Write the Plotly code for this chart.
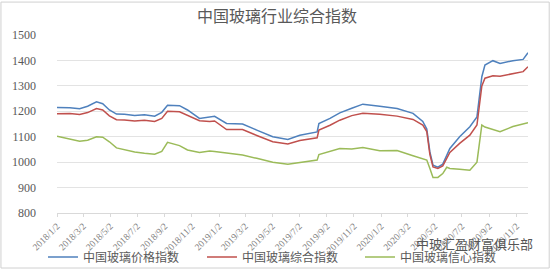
import plotly.graph_objects as go

dates = [
    "2018-01-02", "2018-01-31", "2018-02-22", "2018-03-12", "2018-04-01", "2018-04-15",
    "2018-04-30", "2018-05-16", "2018-06-03", "2018-06-26", "2018-07-18", "2018-08-10",
    "2018-08-26", "2018-09-08", "2018-10-05", "2018-10-23", "2018-11-19", "2018-12-12",
    "2018-12-23", "2019-01-19", "2019-02-24", "2019-03-28", "2019-05-03", "2019-06-06",
    "2019-07-03", "2019-08-11", "2019-08-15", "2019-09-09", "2019-10-01", "2019-10-28",
    "2019-11-22", "2019-12-30", "2020-02-07", "2020-03-14", "2020-04-05", "2020-04-14",
    "2020-04-21", "2020-04-28", "2020-05-09", "2020-05-20", "2020-05-29", "2020-06-05",
    "2020-06-27", "2020-07-20", "2020-08-05", "2020-08-16", "2020-08-23", "2020-09-10",
    "2020-09-26", "2020-10-25", "2020-11-17", "2020-11-28",
]

price_index = [
    1215, 1214, 1210, 1220, 1237, 1230, 1205, 1189, 1188, 1183, 1186, 1181,
    1196, 1224, 1222, 1205, 1172, 1176, 1180, 1152, 1150, 1126, 1100, 1089,
    1106, 1119, 1152, 1172, 1194, 1212, 1228, 1220, 1211, 1192, 1160, 1130,
    1040, 988, 980, 992, 1030, 1054, 1100, 1139, 1178, 1336, 1382, 1399,
    1388, 1399, 1404, 1430,
]

composite_index = [
    1190, 1191, 1187, 1195, 1211, 1205, 1182, 1167, 1166, 1162, 1165, 1160,
    1172, 1200, 1198, 1184, 1163, 1160, 1162, 1128, 1128, 1105, 1080, 1071,
    1085, 1096, 1126, 1145, 1165, 1183, 1192, 1188, 1181, 1168, 1146, 1120,
    1030, 981, 975, 985, 1015, 1038, 1074, 1106, 1146, 1300, 1330, 1340,
    1338, 1349, 1356, 1375,
]

confidence_index = [
    1102, 1090, 1082, 1086, 1100, 1098, 1080, 1056, 1048, 1040, 1035, 1031,
    1042, 1078, 1065, 1048, 1038, 1044, 1042, 1035, 1028, 1015, 1000, 992,
    998, 1008, 1030, 1042, 1054, 1052, 1058, 1045, 1046, 1025, 1015, 1008,
    975, 940, 940, 955, 980, 975, 972, 968, 1000, 1146, 1138, 1130,
    1120, 1140, 1150, 1155,
]

tick_dates = [
    "2018-01-02", "2018-03-02", "2018-05-02", "2018-07-02", "2018-09-02", "2018-11-02",
    "2019-01-02", "2019-03-02", "2019-05-02", "2019-07-02", "2019-09-02", "2019-11-02",
    "2020-01-02", "2020-03-02", "2020-05-02", "2020-07-02", "2020-09-02", "2020-11-02",
]
tick_labels = [
    "2018/1/2", "2018/3/2", "2018/5/2", "2018/7/2", "2018/9/2", "2018/11/2",
    "2019/1/2", "2019/3/2", "2019/5/2", "2019/7/2", "2019/9/2", "2019/11/2",
    "2020/1/2", "2020/3/2", "2020/5/2", "2020/7/2", "2020/9/2", "2020/11/2",
]

series_names = ["中国玻璃价格指数", "中国玻璃综合指数", "中国玻璃信心指数"]
colors = ["#4F81BD", "#C0504D", "#9BBB59"]

cjk = "Noto Sans CJK SC"
num_font = "Liberation Serif"

legend_ids = ["legend", "legend2", "legend3"]
legend_x = [0.0776, 0.3646, 0.6498]

fig = go.Figure()
for name, vals, col, lid in zip(series_names, [price_index, composite_index, confidence_index],
                                colors, legend_ids):
    fig.add_trace(go.Scatter(x=dates, y=vals, mode="lines", name=name, legend=lid,
                             line=dict(color=col, width=1.5)))

legend_common = dict(orientation="h", xref="container", xanchor="left",
                     yref="container", y=0.052, yanchor="middle",
                     font=dict(family=cjk, size=12, color="#595959"), itemwidth=30,
                     bgcolor="rgba(0,0,0,0)")

fig.update_layout(
    width=554, height=271,
    margin=dict(l=57, r=26, t=35, b=58, autoexpand=False),
    paper_bgcolor="white", plot_bgcolor="white",
    title=dict(text="中国玻璃行业综合指数", x=0.5, xanchor="center",
               yref="container", y=0.94, yanchor="middle",
               font=dict(family=cjk, size=16, color="#595959")),
    showlegend=True,
    legend=dict(x=legend_x[0], **legend_common),
    legend2=dict(x=legend_x[1], **legend_common),
    legend3=dict(x=legend_x[2], **legend_common),
    xaxis=dict(type="date", range=[dates[0], dates[-1]], tickvals=tick_dates, ticktext=tick_labels,
               tickangle=-45, tickfont=dict(family=num_font, size=9.5, color="#7f7f7f"),
               showgrid=False, showline=True, linecolor="#d9d9d9", linewidth=1,
               ticks="outside", ticklen=3, tickcolor="#d9d9d9", zeroline=False,
               automargin=False),
    yaxis=dict(range=[800, 1500], dtick=100, tickfont=dict(family=num_font, size=12, color="#595959"),
               showgrid=True, gridcolor="#e3e3e3", gridwidth=1, zeroline=False,
               showline=False, ticks="", ticklabelstandoff=20, automargin=False),
    annotations=[dict(text="中玻汇盈财富俱乐部", xref="paper", yref="paper", x=1.015, y=-0.169,
                      xanchor="right", yanchor="middle", showarrow=False,
                      font=dict(family=cjk, size=13, color="#555555"))],
    shapes=[dict(type="rect", xref="paper", yref="paper", x0=-0.119, x1=1.045, y0=-0.309, y1=1.185,
                 line=dict(color="#d0d0d0", width=1), fillcolor="rgba(0,0,0,0)", layer="below")],
)

fig.write_html("out.html")
